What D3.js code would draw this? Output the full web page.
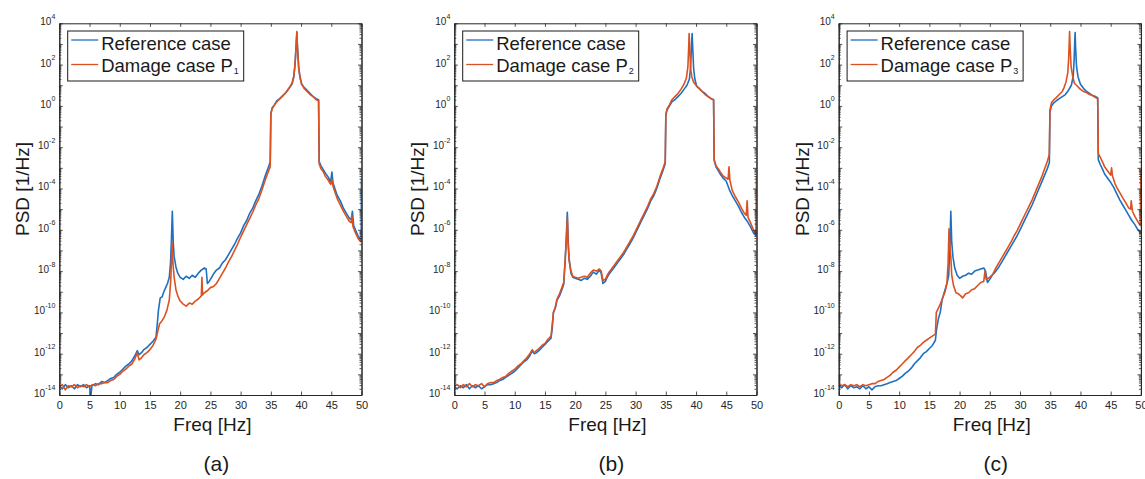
<!DOCTYPE html>
<html>
<head>
<meta charset="utf-8">
<script src="https://cdn.jsdelivr.net/npm/d3@7"></script>
<style>
  body { margin: 0; background: #fff; }
  svg { display: block; font-family: "Liberation Sans", Arial, Helvetica, sans-serif; }
</style>
</head>
<body>
<div id="chart"></div>
<script>
// values: [frequency in Hz, log10 of PSD in 1/Hz]
const refA = [
  [0,-13.55],[0.5,-13.7],[1,-13.5],[1.5,-13.65],[2,-13.55],[2.5,-13.7],[3,-13.5],[3.5,-13.6],[4,-13.5],[4.5,-13.65],
  [5,-13.55],[5.2,-14.1],[5.4,-13.55],[6,-13.45],[6.5,-13.5],[7,-13.35],[7.5,-13.4],[8,-13.3],[8.5,-13.2],[9,-13.15],
  [9.5,-13.0],[10,-12.9],[10.5,-12.75],[11,-12.6],[11.5,-12.5],[12,-12.35],[12.5,-12.1],[12.9,-11.85],[13.2,-12.05],[13.6,-11.95],
  [14,-11.8],[14.5,-11.7],[15,-11.55],[15.5,-11.4],[16,-11.2],[16.2,-10.6],[16.4,-9.9],[16.7,-9.3],[17,-9.25],[17.3,-9.0],
  [17.6,-8.8],[17.9,-8.6],[18.2,-8.3],[18.4,-7.6],[18.55,-6.5],[18.7,-5.1],[18.85,-6.6],[19.0,-7.3],[19.3,-7.8],[19.6,-8.1],
  [20,-8.3],[20.5,-8.4],[21,-8.25],[21.5,-8.35],[22,-8.2],[22.5,-8.3],[23,-8.1],[23.5,-7.95],[24,-7.85],[24.3,-7.9],
  [24.5,-8.6],[24.8,-8.5],[25.2,-8.3],[25.6,-8.1],[26,-7.95],[26.5,-7.85],[27,-7.6],[27.5,-7.45],[28,-7.2],[28.5,-6.95],
  [29,-6.7],[29.5,-6.4],[30,-6.15],[30.5,-5.8],[31,-5.55],[31.5,-5.2],[32,-4.95],[32.5,-4.6],[33,-4.3],[33.5,-3.9],
  [34,-3.45],[34.5,-3.05],[34.9,-2.7],[35.0,-0.4],[35.2,-0.1],[35.6,0.05],[36,0.25],[36.5,0.35],[37,0.5],[37.5,0.65],
  [38,0.85],[38.5,1.05],[38.8,1.4],[39.0,2.0],[39.2,3.0],[39.3,3.55],[39.4,2.9],[39.6,1.9],[39.8,1.45],[40.1,1.05],
  [40.5,0.9],[41,0.75],[41.5,0.6],[42,0.45],[42.5,0.35],[42.9,0.3],[43.0,-2.7],[43.3,-2.9],[43.7,-3.1],[44,-3.25],
  [44.5,-3.45],[44.9,-3.7],[45.1,-3.2],[45.3,-3.75],[45.7,-4.1],[46,-4.35],[46.5,-4.6],[47,-4.95],[47.5,-5.2],[48,-5.45],
  [48.3,-5.5],[48.5,-5.1],[48.7,-5.8],[49,-6.0],[49.5,-6.35],[49.8,-6.45],[49.95,-6.5],[50,-3.5]
];
const dmgA = [
  [0,-13.6],[0.5,-13.5],[1,-13.75],[1.5,-13.55],[2,-13.6],[2.5,-13.5],[3,-13.65],[3.5,-13.55],[4,-13.6],[4.5,-13.5],
  [5,-13.6],[5.5,-13.5],[6,-13.55],[6.5,-13.45],[7,-13.45],[7.5,-13.4],[8,-13.4],[8.5,-13.3],[9,-13.25],[9.5,-13.1],
  [10,-13.0],[10.5,-12.85],[11,-12.75],[11.5,-12.6],[12,-12.5],[12.5,-12.25],[12.9,-11.95],[13.2,-12.3],[13.6,-12.2],[14,-12.05],
  [14.5,-11.95],[15,-11.8],[15.5,-11.6],[16,-11.3],[16.3,-10.9],[16.6,-10.55],[17,-10.4],[17.4,-10.2],[17.8,-9.9],[18.2,-9.4],
  [18.45,-8.4],[18.65,-6.6],[18.8,-7.6],[19.0,-8.3],[19.3,-8.9],[19.6,-9.2],[20,-9.45],[20.5,-9.6],[21,-9.7],[21.5,-9.55],
  [22,-9.6],[22.5,-9.45],[23,-9.35],[23.5,-9.2],[23.6,-8.3],[23.7,-9.15],[24,-9.05],[24.5,-8.95],[25,-8.8],[25.5,-8.75],
  [26,-8.6],[26.5,-8.35],[27,-8.1],[27.5,-7.85],[28,-7.55],[28.5,-7.3],[29,-7.0],[29.5,-6.7],[30,-6.35],[30.5,-6.05],
  [31,-5.75],[31.5,-5.45],[32,-5.15],[32.5,-4.8],[33,-4.5],[33.5,-4.1],[34,-3.65],[34.5,-3.25],[34.9,-2.95],[35.0,-0.4],
  [35.2,-0.15],[35.6,0.05],[36,0.2],[36.5,0.35],[37,0.5],[37.5,0.65],[38,0.85],[38.5,1.1],[38.8,1.45],[39.0,2.0],
  [39.2,3.0],[39.3,3.6],[39.4,2.9],[39.6,1.85],[39.8,1.4],[40.1,1.05],[40.5,0.85],[41,0.7],[41.5,0.55],[42,0.45],
  [42.5,0.3],[42.9,0.25],[43.0,-2.8],[43.3,-3.05],[43.7,-3.2],[44,-3.4],[44.5,-3.6],[44.9,-3.8],[45.1,-3.55],[45.3,-3.9],
  [45.7,-4.25],[46,-4.5],[46.5,-4.8],[47,-5.1],[47.5,-5.35],[48,-5.6],[48.3,-5.65],[48.4,-5.3],[48.6,-5.85],[49,-6.15],
  [49.5,-6.45],[50,-6.6]
];
const refB = [
  [0,-13.6],[0.5,-13.7],[1,-13.55],[1.5,-13.65],[2,-13.5],[2.5,-13.7],[3,-13.55],[3.5,-13.65],[4,-13.55],[4.5,-13.7],
  [5,-13.6],[5.5,-13.5],[6,-13.5],[6.5,-13.45],[7,-13.4],[7.5,-13.3],[8,-13.25],[8.5,-13.15],[9,-13.05],[9.5,-12.95],
  [10,-12.85],[10.5,-12.7],[11,-12.55],[11.5,-12.4],[12,-12.3],[12.5,-12.1],[12.9,-11.85],[13.2,-12.0],[13.6,-11.95],[14,-11.85],
  [14.5,-11.7],[15,-11.55],[15.5,-11.4],[16,-11.25],[16.2,-10.8],[16.4,-10.0],[16.7,-9.8],[17,-9.4],[17.4,-9.2],[17.8,-8.9],
  [18.1,-8.65],[18.35,-7.5],[18.55,-6.2],[18.7,-5.15],[18.85,-6.6],[19.0,-7.4],[19.3,-8.1],[19.6,-8.3],[20,-8.35],[20.5,-8.4],
  [21,-8.45],[21.5,-8.35],[22,-8.4],[22.5,-8.25],[23,-8.05],[23.5,-8.15],[24,-7.95],[24.3,-8.1],[24.6,-8.6],[25,-8.5],
  [25.3,-8.3],[25.6,-8.15],[26,-8.0],[26.5,-7.8],[27,-7.6],[27.5,-7.4],[28,-7.2],[28.5,-6.95],[29,-6.7],[29.5,-6.45],
  [30,-6.15],[30.5,-5.85],[31,-5.55],[31.5,-5.25],[32,-4.95],[32.5,-4.6],[33,-4.35],[33.5,-4.0],[34,-3.55],[34.5,-3.15],
  [34.9,-2.8],[35.0,-0.45],[35.2,-0.2],[35.6,0.0],[36,0.2],[36.5,0.3],[37,0.45],[37.5,0.6],[38,0.8],[38.5,1.0],
  [38.9,1.3],[39.1,1.9],[39.25,3.0],[39.35,3.5],[39.45,2.8],[39.6,1.8],[39.8,1.3],[40.1,0.95],[40.5,0.85],[41,0.7],
  [41.5,0.6],[42,0.45],[42.5,0.35],[42.9,0.3],[43.0,-2.65],[43.3,-2.95],[43.7,-3.15],[44,-3.3],[44.5,-3.5],[45,-3.65],
  [45.5,-4.05],[46,-4.35],[46.5,-4.6],[47,-4.85],[47.5,-5.15],[48,-5.4],[48.5,-5.6],[49,-5.85],[49.5,-6.15],[50,-6.3]
];
const dmgB = [
  [0,-13.55],[0.5,-13.5],[1,-13.65],[1.5,-13.5],[2,-13.6],[2.5,-13.45],[3,-13.6],[3.5,-13.5],[4,-13.55],[4.5,-13.45],
  [5,-13.6],[5.5,-13.45],[6,-13.4],[6.5,-13.4],[7,-13.3],[7.5,-13.25],[8,-13.15],[8.5,-13.1],[9,-12.95],[9.5,-12.85],
  [10,-12.75],[10.5,-12.6],[11,-12.5],[11.5,-12.35],[12,-12.2],[12.5,-12.0],[12.9,-11.8],[13.2,-11.95],[13.6,-11.85],[14,-11.75],
  [14.5,-11.6],[15,-11.5],[15.5,-11.3],[16,-11.15],[16.2,-10.6],[16.4,-10.0],[16.7,-9.75],[17,-9.35],[17.4,-9.1],[17.8,-8.8],
  [18.1,-8.55],[18.35,-7.4],[18.55,-6.5],[18.7,-5.4],[18.85,-6.8],[19.0,-7.5],[19.3,-8.0],[19.6,-8.25],[20,-8.3],[20.5,-8.35],
  [21,-8.3],[21.5,-8.25],[22,-8.3],[22.5,-8.1],[23,-7.95],[23.5,-8.0],[24,-7.9],[24.3,-8.0],[24.6,-8.45],[25,-8.4],
  [25.3,-8.2],[25.6,-8.05],[26,-7.9],[26.5,-7.7],[27,-7.5],[27.5,-7.3],[28,-7.1],[28.5,-6.85],[29,-6.6],[29.5,-6.35],
  [30,-6.05],[30.5,-5.75],[31,-5.45],[31.5,-5.15],[32,-4.85],[32.5,-4.5],[33,-4.25],[33.5,-3.9],[34,-3.45],[34.5,-3.05],
  [34.9,-2.7],[35.0,-0.4],[35.2,-0.15],[35.6,0.05],[36,0.3],[36.5,0.45],[37,0.6],[37.5,0.8],[38,1.05],[38.4,1.35],
  [38.65,1.9],[38.8,3.0],[38.85,3.5],[38.95,2.8],[39.1,1.8],[39.3,1.4],[39.6,1.15],[40,1.0],[40.5,0.85],[41,0.7],
  [41.5,0.55],[42,0.45],[42.5,0.35],[42.9,0.3],[43.0,-2.6],[43.3,-2.9],[43.7,-3.05],[44,-3.2],[44.5,-3.4],[45.3,-3.55],
  [45.45,-2.95],[45.6,-3.6],[46,-4.1],[46.5,-4.4],[47,-4.65],[47.5,-4.95],[48,-5.2],[48.3,-5.3],[48.45,-4.6],[48.6,-5.4],
  [49,-5.65],[49.5,-6.0],[49.9,-6.2],[50,-3.4]
];
const refC = [
  [0,-13.55],[0.5,-13.65],[1,-13.5],[1.5,-13.7],[2,-13.55],[2.5,-13.65],[3,-13.6],[3.5,-13.7],[4,-13.55],[4.5,-13.7],
  [5,-13.6],[5.5,-13.75],[6,-13.6],[6.5,-13.55],[7,-13.55],[7.5,-13.5],[8,-13.45],[8.5,-13.4],[9,-13.35],[9.5,-13.3],
  [10,-13.2],[10.5,-13.1],[11,-12.95],[11.5,-12.85],[12,-12.7],[12.5,-12.5],[13,-12.35],[13.5,-12.2],[14,-12.0],[14.5,-11.9],
  [15,-11.75],[15.5,-11.6],[16,-11.35],[16.2,-10.8],[16.5,-10.3],[16.8,-10.0],[17.1,-9.4],[17.4,-9.1],[17.7,-8.8],[18.0,-8.5],
  [18.2,-8.2],[18.4,-6.8],[18.55,-5.1],[18.7,-6.6],[18.9,-7.3],[19.2,-7.85],[19.6,-8.2],[20,-8.35],[20.5,-8.25],[21,-8.2],
  [21.5,-8.1],[22,-8.15],[22.5,-8.0],[23,-7.95],[23.5,-7.9],[24,-7.85],[24.3,-8.0],[24.6,-8.55],[25,-8.4],[25.4,-8.2],
  [26,-8.0],[26.5,-7.8],[27,-7.55],[27.5,-7.3],[28,-7.05],[28.5,-6.8],[29,-6.55],[29.5,-6.3],[30,-6.0],[30.5,-5.7],
  [31,-5.4],[31.5,-5.1],[32,-4.8],[32.5,-4.45],[33,-4.1],[33.5,-3.75],[34,-3.4],[34.5,-3.05],[34.85,-2.75],[34.95,-0.3],
  [35.2,0.0],[35.6,0.15],[36,0.25],[36.5,0.35],[37,0.45],[37.5,0.55],[38,0.75],[38.5,1.0],[38.8,1.45],[38.95,2.2],
  [39.05,3.1],[39.12,3.55],[39.2,2.8],[39.35,1.9],[39.6,1.4],[40,1.05],[40.5,0.85],[41,0.7],[41.5,0.6],[42,0.5],
  [42.5,0.45],[42.85,0.4],[42.95,-2.6],[43.3,-2.85],[43.7,-3.1],[44,-3.3],[44.5,-3.5],[45,-3.7],[45.5,-3.95],[46,-4.25],
  [46.5,-4.55],[47,-4.8],[47.5,-5.05],[48,-5.3],[48.5,-5.55],[49,-5.75],[49.5,-6.0],[50,-6.15]
];
const dmgC = [
  [0,-13.45],[0.5,-13.55],[1,-13.5],[1.5,-13.6],[2,-13.5],[2.5,-13.55],[3,-13.5],[3.5,-13.6],[4,-13.5],[4.5,-13.55],
  [5,-13.5],[5.5,-13.45],[6,-13.45],[6.5,-13.35],[7,-13.3],[7.5,-13.25],[8,-13.15],[8.5,-13.05],[9,-12.9],[9.5,-12.8],
  [10,-12.65],[10.5,-12.5],[11,-12.35],[11.5,-12.2],[12,-12.05],[12.5,-11.9],[13,-11.7],[13.5,-11.6],[14,-11.45],[14.5,-11.35],
  [15,-11.25],[15.5,-11.15],[16,-11.05],[16.15,-10.0],[16.4,-9.85],[16.8,-9.6],[17.2,-9.3],[17.6,-9.0],[17.9,-8.6],[18.1,-7.6],
  [18.25,-5.95],[18.4,-6.8],[18.55,-7.3],[18.7,-8.2],[19.0,-8.7],[19.4,-9.05],[19.8,-9.1],[20.2,-9.2],[20.5,-9.3],[21,-9.1],
  [21.5,-9.05],[22,-8.9],[22.5,-8.85],[23,-8.7],[23.5,-8.55],[24,-8.5],[24.2,-8.0],[24.4,-8.4],[25,-8.3],[25.5,-8.15],
  [26,-7.85],[26.5,-7.6],[27,-7.35],[27.5,-7.1],[28,-6.85],[28.5,-6.6],[29,-6.3],[29.5,-6.05],[30,-5.75],[30.5,-5.45],
  [31,-5.15],[31.5,-4.85],[32,-4.55],[32.5,-4.2],[33,-3.85],[33.5,-3.5],[34,-3.1],[34.5,-2.7],[34.85,-2.35],[34.95,-0.2],
  [35.2,0.15],[35.6,0.3],[36,0.4],[36.5,0.55],[37,0.7],[37.3,0.9],[37.6,1.15],[37.9,1.6],[38.05,2.3],[38.15,3.1],
  [38.2,3.6],[38.3,2.8],[38.45,1.9],[38.7,1.45],[39,1.1],[39.5,0.95],[40,0.8],[40.5,0.7],[41,0.65],[41.5,0.55],
  [42,0.5],[42.5,0.4],[42.85,0.35],[42.95,-2.3],[43.3,-2.5],[43.7,-2.75],[44,-2.95],[44.5,-3.15],[45,-3.35],[45.15,-3.0],
  [45.3,-3.4],[45.7,-3.75],[46,-3.95],[46.5,-4.2],[47,-4.45],[47.5,-4.7],[48,-4.95],[48.3,-5.0],[48.4,-4.6],[48.6,-5.1],
  [49,-5.35],[49.5,-5.6],[49.9,-5.8],[50,-3.1]
];

const freqTicks = [0, 5, 10, 15, 20, 25, 30, 35, 40, 45, 50];
const decadeLabels = [4, 2, 0, -2, -4, -6, -8, -10, -12, -14];
const panelTags = ["(a)", "(b)", "(c)"];
const damageSubs = ["1", "2", "3"];
const refLabel = "Reference case";
const dmgLabel = "Damage case P";

const panels = [
  { tag: panelTags[0], sub: damageSubs[0], ref: refA, dmg: dmgA, left: 59.3 },
  { tag: panelTags[1], sub: damageSubs[1], ref: refB, dmg: dmgB, left: 454.3 },
  { tag: panelTags[2], sub: damageSubs[2], ref: refC, dmg: dmgC, left: 838.7 }
];

const W = 1145, H = 479;
const plotTop = 23.3, plotBottom = 395;
const innerW = 302.2, innerH = plotBottom - plotTop;
const blue = "#1f6fc2", red = "#dc5120", axisColor = "#262626";

const svg = d3.select("#chart").append("svg")
  .attr("width", W)
  .attr("height", H);

panels.forEach((p, i) => {
  const x = d3.scaleLinear().domain([0, 50]).range([0, innerW]);
  const y = d3.scaleLog().domain([1e-14, 1e4]).range([innerH, 0]);

  const g = svg.append("g").attr("transform", `translate(${p.left},${plotTop})`);

  g.append("clipPath").attr("id", "clip" + i)
    .append("rect").attr("width", innerW).attr("height", innerH);

  const line = d3.line()
    .x(d => x(d[0]))
    .y(d => y(Math.pow(10, d[1])));

  const plotG = g.append("g").attr("clip-path", `url(#clip${i})`);
  plotG.append("path").datum(p.ref)
    .attr("d", line).attr("fill", "none")
    .attr("stroke", blue).attr("stroke-width", 1.6).attr("stroke-linejoin", "round");
  plotG.append("path").datum(p.dmg)
    .attr("d", line).attr("fill", "none")
    .attr("stroke", red).attr("stroke-width", 1.6).attr("stroke-linejoin", "round");

  // ticks: major every decade, minor 2..9
  const majors = d3.range(-14, 5).map(e => Math.pow(10, e));
  const minors = [];
  d3.range(-14, 4).forEach(e => {
    for (let k = 2; k < 10; k++) minors.push(k * Math.pow(10, e));
  });

  const styleAxis = sel => {
    sel.select(".domain").attr("stroke", axisColor).attr("stroke-width", 1);
    sel.selectAll(".tick line").attr("stroke", axisColor).attr("stroke-width", 0.8);
  };

  g.append("g").attr("transform", `translate(0,${innerH})`)
    .call(d3.axisBottom(x).tickValues(freqTicks).tickSizeInner(-3.5).tickSizeOuter(0).tickPadding(6))
    .call(styleAxis)
    .call(sel => sel.selectAll(".tick text")
      .attr("font-size", 11).attr("fill", axisColor)
      .attr("font-family", "Liberation Sans, Arial, sans-serif"));

  g.append("g")
    .call(d3.axisTop(x).tickValues(freqTicks).tickFormat("").tickSizeInner(-3.5).tickSizeOuter(0))
    .call(styleAxis);

  g.append("g")
    .call(d3.axisLeft(y).tickValues(majors).tickFormat("").tickSizeInner(-3.5).tickSizeOuter(0))
    .call(styleAxis);
  g.append("g")
    .call(d3.axisLeft(y).tickValues(minors).tickFormat("").tickSizeInner(-2).tickSizeOuter(0))
    .call(styleAxis);
  g.append("g").attr("transform", `translate(${innerW},0)`)
    .call(d3.axisRight(y).tickValues(majors).tickFormat("").tickSizeInner(-3.5).tickSizeOuter(0))
    .call(styleAxis);
  g.append("g").attr("transform", `translate(${innerW},0)`)
    .call(d3.axisRight(y).tickValues(minors).tickFormat("").tickSizeInner(-2).tickSizeOuter(0))
    .call(styleAxis);

  // y tick labels as 10^n
  const yl = g.append("g").attr("fill", axisColor);
  decadeLabels.forEach(e => {
    const t = yl.append("text")
      .attr("x", -4)
      .attr("y", y(Math.pow(10, e)) + 2)
      .attr("text-anchor", "end")
      .attr("font-size", 10);
    t.append("tspan").text("10");
    t.append("tspan").attr("font-size", 7).attr("dy", -6.5).text(e < 0 ? "-" + Math.abs(e) : String(e));
  });

  // axis labels
  g.append("text")
    .attr("transform", `translate(-30,${189 - plotTop}) rotate(-90)`)
    .attr("text-anchor", "middle")
    .attr("font-size", 19)
    .attr("fill", "#1a1a1a")
    .text("PSD [1/Hz]");

  g.append("text")
    .attr("x", innerW / 2 + 2)
    .attr("y", 431.5 - plotTop)
    .attr("text-anchor", "middle")
    .attr("font-size", 19)
    .attr("fill", "#1a1a1a")
    .text("Freq [Hz]");

  g.append("text")
    .attr("x", innerW / 2 + 6)
    .attr("y", 471 - plotTop)
    .attr("text-anchor", "middle")
    .attr("font-size", 21)
    .attr("fill", "#1a1a1a")
    .text(p.tag);

  // legend
  const lg = g.append("g").attr("transform", `translate(8.4,${31 - plotTop})`);
  lg.append("rect")
    .attr("width", 176).attr("height", 50)
    .attr("fill", "#fff").attr("stroke", "#1a1a1a").attr("stroke-width", 1);
  const items = [
    { color: blue, label: refLabel, sub: null, ly: 9, ty: 18.5 },
    { color: red, label: dmgLabel, sub: p.sub, ly: 33.5, ty: 41.3 }
  ];
  items.forEach(it => {
    lg.append("line")
      .attr("x1", 3.5).attr("x2", 30.5)
      .attr("y1", it.ly).attr("y2", it.ly)
      .attr("stroke", it.color).attr("stroke-width", 1.3);
    const t = lg.append("text")
      .attr("x", 33.5).attr("y", it.ty)
      .attr("font-size", 18.5).attr("fill", "#1a1a1a");
    t.append("tspan").text(it.label);
    if (it.sub) t.append("tspan").attr("font-size", 9).attr("dy", 2).attr("dx", 1).text(it.sub);
  });
});
</script>
</body>
</html>
